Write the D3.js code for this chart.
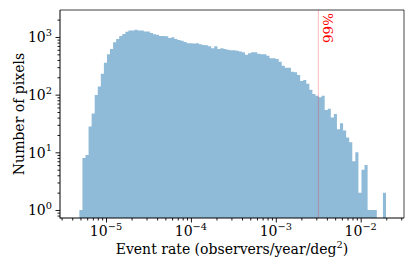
<!DOCTYPE html>
<html>
<head>
<meta charset="utf-8">
<script src="https://cdn.jsdelivr.net/npm/d3@7"></script>
<style>
  body { margin: 0; background: #fff; }
  text { font-family: "DejaVu Serif", serif; }
</style>
</head>
<body>
<svg id="chart" width="415" height="277"></svg>
<script>
// histogram counts, 100 log-spaced bins
var counts = [
  1, 8, 9, 28, 47, 99, 139, 231, 359, 500,
  617, 809, 923, 1040, 1125, 1234, 1290, 1290, 1340, 1300,
  1290, 1250, 1240, 1170, 1120, 1090, 1040, 1040, 1030, 960,
  990, 920, 890, 860, 820, 780, 780, 770, 776, 750,
  726, 720, 690, 640, 689, 619, 636, 619, 603, 590,
  588, 580, 560, 542, 490, 521, 542, 542, 514, 500,
  500, 474, 427, 427, 415, 373, 318, 294, 294, 250,
  245, 220, 173, 180, 155, 122, 103, 96, 90, 96,
  54, 57, 40, 46, 25, 32, 24, 18, 15, 7,
  10, 2, 5, 6, 1, 1, 1, 0, 0, 2
];
// range of the bins (log10 of event rate)
var binLogRange = [-5.314, -1.702];
var cut99 = 3.17e-3;
var cutLabel = "99%";

var xTicks = [1e-5, 1e-4, 1e-3, 1e-2];
var xTickExp = ["\u22125", "\u22124", "\u22123", "\u22122"];
var yTicks = [1, 10, 100, 1000];
var yTickExp = ["0", "1", "2", "3"];

var xLabel = "Event rate (observers/year/deg";
var yLabel = "Number of pixels";

var svg = d3.select("#chart");
var pLeft = 60, pRight = 404, pTop = 10, pBottom = 218;
var fs = "14px", fsSup = "9.8px";

var x = d3.scaleLog()
    .domain([Math.pow(10, -5.542), Math.pow(10, -1.49)])
    .range([pLeft, pRight]);
var y = d3.scaleLog()
    .domain([Math.pow(10, -0.139), Math.pow(10, 3.468)])
    .range([pBottom, pTop]);

// bin edges
var n = counts.length,
    step = (binLogRange[1] - binLogRange[0]) / n;
var bins = counts.map(function(c, i) {
  return {x0: Math.pow(10, binLogRange[0] + i * step), c: c};
});
bins.push({x0: Math.pow(10, binLogRange[1]), c: counts[n - 1]});

var area = d3.area()
    .x(function(d) { return x(d.x0); })
    .y0(pBottom)
    .y1(function(d) { return d.c > 0 ? y(d.c) : pBottom; })
    .curve(d3.curveStepAfter);

svg.append("path")
    .datum(bins)
    .attr("d", area)
    .attr("fill", "#8fbbd9");

// 99% line
svg.append("line")
    .attr("x1", x(cut99)).attr("x2", x(cut99))
    .attr("y1", pTop).attr("y2", pBottom)
    .attr("stroke", "red")
    .attr("stroke-opacity", 0.25)
    .attr("stroke-width", 1);

svg.append("text")
    .attr("transform", "translate(" + (x(cut99) + 15) + "," + 43 + ")rotate(-90)")
    .attr("fill", "red")
    .attr("font-size", "13.5px")
    .text(cutLabel);

// minor ticks
function minors(scale) {
  var d = scale.domain(), out = [];
  for (var e = Math.floor(Math.log10(d[0])); e <= Math.ceil(Math.log10(d[1])); e++) {
    for (var k = 2; k < 10; k++) {
      var v = k * Math.pow(10, e);
      if (v >= d[0] && v <= d[1]) out.push(v);
    }
  }
  return out;
}

var gx = svg.append("g").attr("transform", "translate(0," + pBottom + ")");
gx.call(d3.axisBottom(x).tickValues(minors(x)).tickSize(2.5).tickSizeOuter(0).tickFormat(""));
gx.append("g").call(d3.axisBottom(x).tickValues(xTicks).tickSize(4.5).tickSizeOuter(0).tickFormat(""));
var gy = svg.append("g").attr("transform", "translate(" + pLeft + ",0)");
gy.call(d3.axisLeft(y).tickValues(minors(y)).tickSize(2.5).tickSizeOuter(0).tickFormat(""));
gy.append("g").call(d3.axisLeft(y).tickValues(yTicks).tickSize(4.5).tickSizeOuter(0).tickFormat(""));
svg.selectAll(".domain").remove();
svg.selectAll(".tick line").attr("stroke", "#000").attr("stroke-width", 0.9);

// tick labels
var xl = svg.append("g").selectAll("text")
    .data(xTicks)
    .enter().append("text")
    .attr("x", function(d) { return x(d); })
    .attr("y", 236)
    .attr("text-anchor", "middle")
    .attr("font-size", fs);
xl.append("tspan").text("10");
xl.append("tspan").attr("dy", -6.5).attr("font-size", fsSup)
    .text(function(d, i) { return xTickExp[i]; });

var yl = svg.append("g").selectAll("text")
    .data(yTicks)
    .enter().append("text")
    .attr("x", 52)
    .attr("y", function(d) { return y(d) + 5.5; })
    .attr("text-anchor", "end")
    .attr("font-size", fs);
yl.append("tspan").text("10");
yl.append("tspan").attr("dy", -6.5).attr("font-size", fsSup)
    .text(function(d, i) { return yTickExp[i]; });

// spines
svg.append("line").attr("x1", pLeft).attr("x2", pRight).attr("y1", pTop).attr("y2", pTop)
    .attr("stroke", "#000").attr("stroke-opacity", 0.5).attr("stroke-width", 1.5);
svg.append("line").attr("x1", pRight).attr("x2", pRight).attr("y1", pTop).attr("y2", pBottom)
    .attr("stroke", "#000").attr("stroke-opacity", 0.6).attr("stroke-width", 1.2);
svg.append("line").attr("x1", pLeft).attr("x2", pLeft).attr("y1", pTop).attr("y2", pBottom + 0.5)
    .attr("stroke", "#000").attr("stroke-width", 1);
svg.append("line").attr("x1", pLeft).attr("x2", pRight).attr("y1", pBottom).attr("y2", pBottom)
    .attr("stroke", "#000").attr("stroke-width", 1);

// axis labels
var xt = svg.append("text")
    .attr("x", (pLeft + pRight) / 2)
    .attr("y", 254)
    .attr("text-anchor", "middle")
    .attr("font-size", fs);
xt.append("tspan").text(xLabel);
xt.append("tspan").attr("dy", -6).attr("font-size", fsSup).text("2");
xt.append("tspan").attr("dy", 6).text(")");

svg.append("text")
    .attr("transform", "translate(24," + (pTop + pBottom) / 2 + ")rotate(-90)")
    .attr("text-anchor", "middle")
    .attr("font-size", fs)
    .text(yLabel);
</script>
</body>
</html>
